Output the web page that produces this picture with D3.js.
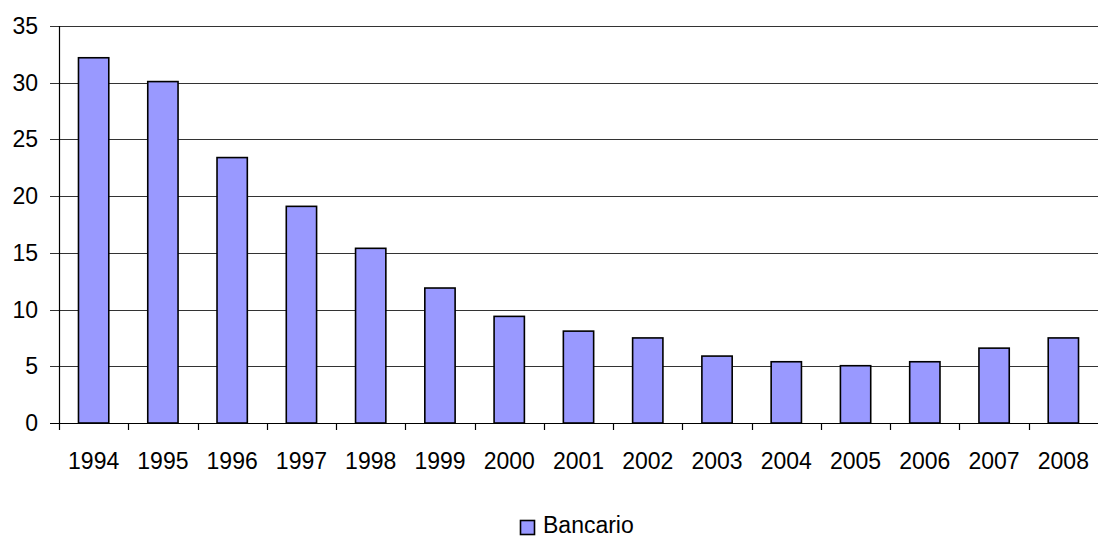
<!DOCTYPE html>
<html>
<head>
<meta charset="utf-8">
<script src="https://cdn.jsdelivr.net/npm/d3@7"></script>
<style>
  html, body { margin: 0; padding: 0; background: #fff; }
  svg { display: block; font-family: "Liberation Sans", Arial, sans-serif; }
</style>
</head>
<body>
<svg id="chart" width="1098" height="538"></svg>
<script>
// Years shown along the category axis
const years = ["1994", "1995", "1996", "1997", "1998", "1999", "2000", "2001",
               "2002", "2003", "2004", "2005", "2006", "2007", "2008"];
// Bancario series values
const bancario = [32.2, 30.1, 23.4, 19.1, 15.4, 11.9, 9.4, 8.1, 7.5, 5.9, 5.4, 5.05, 5.4, 6.6, 7.5];
// Value axis ticks
const yTicks = [0, 5, 10, 15, 20, 25, 30, 35];
const seriesName = "Bancario";

const svg = d3.select("#chart");
const margin = { left: 59, right: 0, top: 26, bottom: 115 };
const W = 1098, H = 538;
const plotBottom = H - margin.bottom; // 423

const x = d3.scaleBand().domain(years).range([margin.left, W - margin.right]).paddingInner(0.5626).paddingOuter(0.2813);
const xOuter = d3.scaleBand().domain(years).range([margin.left, W - margin.right]);
const y = d3.scaleLinear().domain([0, 35]).range([plotBottom, margin.top]);

// Horizontal gridlines with tick marks extending left of the axis
svg.append("g")
  .selectAll("line")
  .data(yTicks.filter(d => d > 0))
  .join("line")
  .attr("x1", margin.left - 9)
  .attr("x2", W)
  .attr("y1", d => Math.round(y(d)) + 0.5)
  .attr("y2", d => Math.round(y(d)) + 0.5)
  .attr("stroke", "#333")
  .attr("stroke-width", 1);

// Value labels
svg.append("g")
  .selectAll("text")
  .data(yTicks)
  .join("text")
  .attr("x", 38)
  .attr("y", d => Math.round(y(d)))
  .attr("dy", "0.36em")
  .attr("text-anchor", "end")
  .attr("font-size", 23)
  .attr("fill", "#000")
  .text(d => d);

// Bars
svg.append("g")
  .selectAll("rect")
  .data(bancario)
  .join("rect")
  .attr("x", (d, i) => x(years[i]))
  .attr("width", x.bandwidth())
  .attr("y", d => y(d))
  .attr("height", d => plotBottom - y(d))
  .attr("fill", "#9999ff")
  .attr("stroke", "#000")
  .attr("stroke-width", 1.6);

// Vertical axis line
svg.append("line")
  .attr("x1", margin.left + 0.5).attr("x2", margin.left + 0.5)
  .attr("y1", margin.top).attr("y2", plotBottom + 0.5)
  .attr("stroke", "#000").attr("stroke-width", 1.2);

// Category axis line with a tick mark at each category boundary
svg.append("line")
  .attr("x1", margin.left - 9).attr("x2", W)
  .attr("y1", plotBottom + 0.5).attr("y2", plotBottom + 0.5)
  .attr("stroke", "#000").attr("stroke-width", 1.2);

svg.append("g")
  .selectAll("line")
  .data(years)
  .join("line")
  .attr("x1", d => Math.round(xOuter(d)) + 0.5)
  .attr("x2", d => Math.round(xOuter(d)) + 0.5)
  .attr("y1", plotBottom)
  .attr("y2", plotBottom + 7)
  .attr("stroke", "#000")
  .attr("stroke-width", 1.2);

// Year labels
svg.append("g")
  .selectAll("text")
  .data(years)
  .join("text")
  .attr("x", d => xOuter(d) + xOuter.bandwidth() / 2)
  .attr("y", 469)
  .attr("text-anchor", "middle")
  .attr("font-size", 23)
  .attr("fill", "#000")
  .text(d => d);

// Legend
const legend = svg.append("g");
legend.append("rect")
  .attr("x", 520.5).attr("y", 520.5)
  .attr("width", 14).attr("height", 14)
  .attr("fill", "#9999ff")
  .attr("stroke", "#000")
  .attr("stroke-width", 1.6);
legend.append("text")
  .attr("x", 543)
  .attr("y", 533)
  .attr("font-size", 23)
  .attr("fill", "#000")
  .text(seriesName);
</script>
</body>
</html>
